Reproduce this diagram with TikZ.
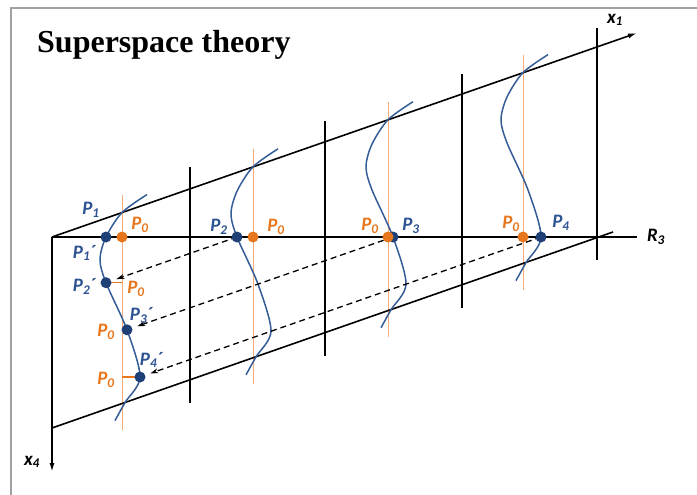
\documentclass[tikz,border=0pt]{standalone}
\usepackage{fontspec}
\setmainfont{Liberation Serif}
\setsansfont{Carlito}
\usetikzlibrary{arrows.meta, positioning}
\definecolor{waveBlue}{RGB}{52, 92, 150}
\definecolor{dotBlue}{RGB}{31, 64, 118}
\definecolor{labBlue}{RGB}{44, 82, 146}
\definecolor{zeroOrange}{RGB}{232, 118, 28}
\definecolor{lineOrange}{RGB}{244, 172, 122}
\definecolor{frameGray}{RGB}{160, 160, 160}

\newcommand{\Plab}[1]{P\textsubscript{#1}}
\newcommand{\Pprime}[1]{P\textsubscript{#1}\kern-0.05em´}

\begin{document}
\begin{tikzpicture}[x=1pt, y=-1pt,
  axis/.style={line width=1.6pt},
  arrowaxis/.style={axis, -{Latex[length=9pt, width=5pt]}},
  orangeline/.style={draw=lineOrange, line width=1pt},
  tick/.style={draw=zeroOrange, line width=1.2pt},
  wave/.style={draw=waveBlue, line width=1.5pt},
  proj/.style={line width=1.3pt, dash pattern=on 6pt off 4pt,
               -{Stealth[length=8pt, width=5pt]}, shorten >=11pt},
  bluedot/.style={circle, fill=dotBlue, inner sep=0pt, minimum size=11pt},
  orangedot/.style={circle, fill=zeroOrange, inner sep=0pt, minimum size=11pt},
  lab/.style={font=\sffamily\bfseries\itshape\fontsize{19}{19}\selectfont, inner sep=0pt},
  bluelab/.style={lab, text=labBlue},
  orangelab/.style={lab, text=zeroOrange},
]
  \useasboundingbox (0,0) rectangle (697,495);
  \draw[frameGray, line width=1.5pt] (697,8) -| (11,495);

  \node[font=\bfseries\fontsize{32}{32}\selectfont, anchor=base west, inner sep=0pt]
    (title) at (37,53) {Superspace theory};

  % orange reference lines, one per strip
  \foreach \xo in {122,253,388,523}
    \draw[orangeline, shift={(\xo,{237-0.349*(\xo-52)})}] (0,-18) -- (0,217);

  % axes and the slanted strip
  \coordinate (O) at (52,237);
  \coordinate (x1end) at (637,33);
  \coordinate (x4end) at (52,472);
  \coordinate (R3end) at (637,237);
  \coordinate (low0) at (52,428);
  \coordinate (low1) at (613,232);
  \draw[axis] (O) -- (R3end);
  \draw[arrowaxis] (O) -- (x1end);
  \draw[arrowaxis] (O) -- (x4end);
  \draw[axis] (low0) -- (low1);
  \foreach \x/\t/\b in {190/167/403, 325/121/356, 462/74/308, 597/28/260}
    \draw[axis] (\x,\t) -- (\x,\b);

  % modulation waves
  \foreach \xo in {122,253,388,523}
    \draw[wave, shift={(\xo,{237-0.349*(\xo-52)})}] plot[smooth] coordinates
      {(25,-18) (0,0) (-16,24.4) (-22,47) (-16,70.2) (5,117.3) (18,164.4) (3,190) (-7,208)};

  % points on R3 and their images in the first strip
  \foreach \n/\x in {1/106, 2/237, 3/393, 4/541}
    \coordinate (P\n) at (\x,237);
  \foreach \n/\x in {1/122, 2/253, 3/388, 4/523}
    \coordinate (Q\n) at (\x,237);
  \foreach \n/\x/\y in {2/106/282.7, 3/127/329.8, 4/140/377}
    \coordinate (Pp\n) at (\x,\y);

  \foreach \n in {2,3,4}
    \draw[proj] (P\n) -- (Pp\n);
  \draw[tick] (Pp2) -- (Pp2 -| Q1);
  \draw[tick] (Pp4) -- (Pp4 -| Q1);

  \foreach \n in {1,...,4}
    \node[bluedot] at (P\n) {};
  \foreach \n in {2,3,4}
    \node[bluedot] at (Pp\n) {};
  \foreach \n in {1,...,4}
    \node[orangedot] at (Q\n) {};

  % labels
  \node[bluelab] at ([shift={(-15,-27)}]P1) {\Plab{1}};
  \node[orangelab] at ([shift={(18,-12)}]Q1) {\Plab{0}};
  \node[bluelab] at ([shift={(-22,16)}]P1) {\Pprime{1}};
  \node[bluelab] at ([shift={(-22,4)}]Pp2) {\Pprime{2}};
  \node[orangelab] at ([shift={(14,6)}]Pp2 -| Q1) {\Plab{0}};
  \node[bluelab] at ([shift={(14,-14)}]Pp3) {\Pprime{3}};
  \node[orangelab] at ([shift={(-16,2)}]Pp3 -| Q1) {\Plab{0}};
  \node[bluelab] at ([shift={(11,-17)}]Pp4) {\Pprime{4}};
  \node[orangelab] at ([shift={(-16,3)}]Pp4 -| Q1) {\Plab{0}};
  \node[bluelab] at ([shift={(-18,-10)}]P2) {\Plab{2}};
  \node[orangelab] at ([shift={(23,-10)}]Q2) {\Plab{0}};
  \node[orangelab] at ([shift={(-18,-11)}]Q3) {\Plab{0}};
  \node[bluelab] at ([shift={(18,-11)}]P3) {\Plab{3}};
  \node[orangelab] at ([shift={(-12,-13)}]Q4) {\Plab{0}};
  \node[bluelab] at ([shift={(20,-14)}]P4) {\Plab{4}};

  \node[lab] at ([shift={(-22,-13)}]x1end) {x\textsubscript{1}};
  \node[lab] at ([shift={(19,0)}]R3end) {R\textsubscript{3}};
  \node[lab] at ([shift={(-20,-10)}]x4end) {x\textsubscript{4}};
\end{tikzpicture}
\end{document}
